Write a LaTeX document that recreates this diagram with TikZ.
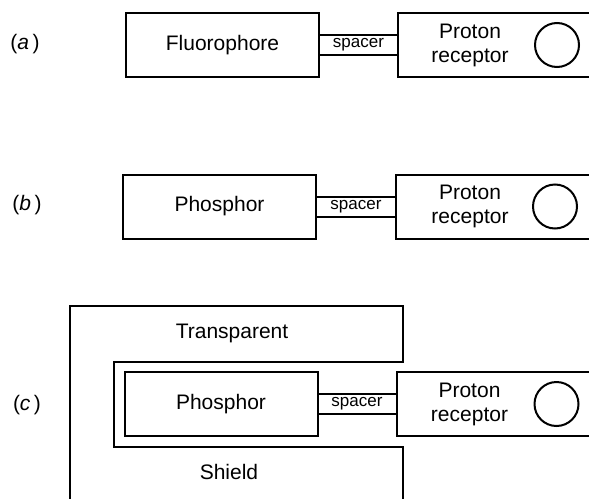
\documentclass[tikz,border=0pt]{standalone}
\usepackage{fontspec}
\setmainfont{Liberation Sans}
\usetikzlibrary{positioning}

\begin{document}
\begin{tikzpicture}[x=1pt,y=-1pt,line width=2pt,
  font=\fontsize{21}{24}\selectfont,
  unit/.style={draw,minimum width=193pt,minimum height=64pt,inner sep=0pt,outer sep=0pt},
  recbox/.style={draw,minimum width=210pt,minimum height=64pt,inner sep=0pt,outer sep=0pt},
  link/.style={draw,minimum height=20pt,inner sep=0pt,outer sep=0pt,font=\fontsize{17}{20}\selectfont},
  site/.style={draw,circle,minimum size=44pt,inner sep=0pt},
  lab/.style={align=center}]
\clip (0,0) rectangle (589,498);
\useasboundingbox (0,0) rectangle (589,498);
% (a)
\node (labA) at (25,44) {(\textit{a}\,)};
\node[unit] (fluor) at (222.5,45) {Fluorophore};
\node[link,minimum width=79pt,right=0pt of fluor] (spcA) {spacer};
\node[recbox,right=0pt of spcA] (recA) {};
\node[lab] (recAtxt) at ([xshift=72pt]recA.west) {Proton\\receptor};
\node[site] (siteA) at ([xshift=159pt]recA.west) {};
% (b)
\node (labB) at (27,205) {(\textit{b}\,)};
\node[unit] (phosB) at (219.5,206.5) {Phosphor};
\node[link,minimum width=80pt,right=0pt of phosB] (spcB) {spacer};
\node[recbox,right=0pt of spcB] (recB) {};
\node[lab] (recBtxt) at ([xshift=74pt]recB.west) {Proton\\receptor};
\node[site] (siteB) at ([xshift=159pt]recB.west) {};
% (c) with shield
\draw (70,505) -- (70,306) -- (403,306) -- (403,362) -- (114,362)
  -- (114,447) -- (403,447) -- (403,505);
\node (transp) at (232,333) {Transparent};
\node (shield) at (229,472) {Shield};
\node (labC) at (27,405) {(\textit{c}\,)};
\node[unit] (phosC) at (221,404) {Phosphor};
\node[link,minimum width=79pt,right=0pt of phosC] (spcC) {spacer};
\node[recbox,right=0pt of spcC] (recC) {};
\node[lab] (recCtxt) at ([xshift=73pt]recC.west) {Proton\\receptor};
\node[site] (siteC) at ([xshift=160pt]recC.west) {};
\end{tikzpicture}
\end{document}
